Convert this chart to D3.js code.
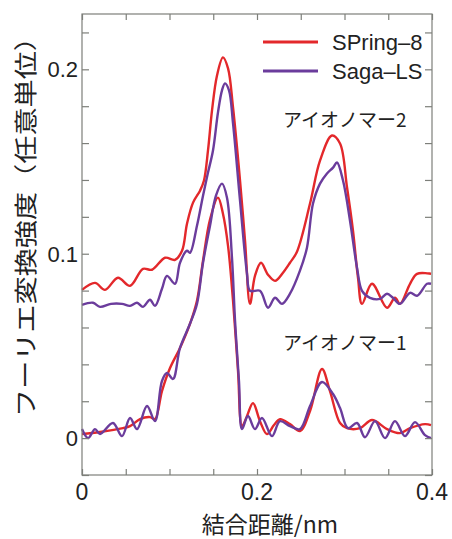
<!DOCTYPE html>
<html>
<head>
<meta charset="utf-8">
<script src="https://cdn.jsdelivr.net/npm/d3@7"></script>
<style>
  body { margin: 0; background: #fff; }
  text { font-family: "Liberation Sans", Arial, sans-serif; fill: #222; }
  .jp { font-family: "Noto Sans CJK JP", sans-serif; }
</style>
</head>
<body>
<script>
// values: [bond distance nm, FT intensity]
var spring8Ionomer2 = [[0,0.0804],[0.0149,0.0842],[0.0263,0.0804],[0.0411,0.087],[0.0549,0.0826],[0.0697,0.0918],[0.08,0.0913],[0.0949,0.0978],[0.1063,0.0967],[0.1143,0.1016],[0.12,0.1163],[0.1269,0.1277],[0.1349,0.1342],[0.1394,0.1397],[0.144,0.156],[0.1486,0.1777],[0.1543,0.1967],[0.1611,0.2065],[0.1669,0.2005],[0.1726,0.1793],[0.1806,0.1397],[0.1863,0.1071],[0.192,0.0728],[0.1977,0.088],[0.2046,0.0951],[0.2126,0.0886],[0.2206,0.0853],[0.2297,0.0897],[0.2377,0.0951],[0.2457,0.1011],[0.2606,0.1272],[0.272,0.1505],[0.2857,0.1641],[0.2949,0.1598],[0.3029,0.1359],[0.3097,0.1125],[0.3154,0.087],[0.32,0.0728],[0.3314,0.0837],[0.3486,0.0707],[0.3577,0.0761],[0.3634,0.0728],[0.3749,0.0837],[0.3829,0.0891],[0.3989,0.0891]]
var sagaIonomer2 = [[0,0.0723],[0.0126,0.0734],[0.0206,0.0712],[0.0331,0.0728],[0.0457,0.0728],[0.0549,0.0717],[0.0629,0.0734],[0.0697,0.0712],[0.0777,0.075],[0.0834,0.0717],[0.0914,0.081],[0.0971,0.088],[0.1063,0.0837],[0.112,0.0951],[0.12,0.1016],[0.1234,0.1005],[0.1314,0.1152],[0.1383,0.1315],[0.144,0.144],[0.1497,0.156],[0.1554,0.1766],[0.16,0.1886],[0.1634,0.1924],[0.168,0.1886],[0.1726,0.1707],[0.1806,0.1288],[0.1886,0.0891],[0.192,0.0799],[0.2034,0.0799],[0.2126,0.0707],[0.2206,0.0761],[0.2286,0.0728],[0.2377,0.0783],[0.2491,0.0908],[0.2571,0.1033],[0.264,0.1272],[0.272,0.138],[0.28,0.1435],[0.2869,0.1467],[0.2914,0.1495],[0.2983,0.1397],[0.3063,0.1179],[0.3143,0.0924],[0.32,0.0799],[0.3291,0.0761],[0.3406,0.0755],[0.3486,0.0783],[0.3554,0.0761],[0.3634,0.0728],[0.3749,0.0788],[0.3829,0.0772],[0.3943,0.0837],[0.3989,0.0837]]
var spring8Ionomer1 = [[0,0.0022],[0.0206,0.0033],[0.0469,0.0054],[0.0549,0.0065],[0.0663,0.0103],[0.0777,0.0114],[0.0834,0.0103],[0.0914,0.0255],[0.1006,0.038],[0.112,0.0489],[0.1234,0.062],[0.1314,0.0745],[0.1383,0.0962],[0.1463,0.1185],[0.1554,0.1304],[0.1611,0.1217],[0.1669,0.1043],[0.1726,0.0745],[0.1783,0.0364],[0.1829,0.0065],[0.1886,0.012],[0.1954,0.019],[0.2034,0.0092],[0.2114,0.0022],[0.2194,0.0071],[0.2263,0.0103],[0.2377,0.0076],[0.2491,0.0038],[0.2606,0.0147],[0.2743,0.0375],[0.2834,0.0255],[0.2949,0.0082],[0.3029,0.0054],[0.3177,0.0054],[0.3314,0.0098],[0.3486,0.0049],[0.3634,0.0027],[0.3749,0.0054],[0.392,0.0076],[0.3989,0.0071]]
var sagaIonomer1 = [[0,0.0049],[0.0069,0],[0.0149,0.0049],[0.0206,0.0022],[0.0354,0.0082],[0.0457,0.0011],[0.0549,0.0109],[0.0629,0.0049],[0.0743,0.0174],[0.0834,0.0092],[0.0914,0.031],[0.0971,0.0353],[0.104,0.0321],[0.112,0.0489],[0.1234,0.062],[0.1314,0.0728],[0.1383,0.0951],[0.1463,0.1152],[0.1531,0.1315],[0.16,0.138],[0.1657,0.1304],[0.1714,0.0978],[0.1749,0.0636],[0.1794,0.031],[0.1829,0.0049],[0.1897,0.012],[0.1977,0.0049],[0.2057,0.0109],[0.2171,0.0011],[0.2263,0.0092],[0.2377,0.0065],[0.2491,0.0049],[0.2606,0.0174],[0.2743,0.0304],[0.2869,0.0239],[0.2949,0.0163],[0.304,0.0054],[0.3143,0.0082],[0.3234,0.0005],[0.3349,0.0092],[0.3463,0],[0.3577,0.0092],[0.3691,0.0011],[0.3806,0.0087],[0.392,0.0016],[0.3989,0]]

var seriesNames = ['SPring\u20138', 'Saga\u2013LS']
var seriesColors = ['#e3282b', '#6b3c9c']
var curveLabels = ['アイオノマー2', 'アイオノマー1']
var xTickLabels = [0, 0.2, 0.4]
var yTickLabels = [0, 0.1, 0.2]

var w = 452, h = 539
var m = {top: 14, right: 20, bottom: 64, left: 82}
var iw = w - m.left - m.right
var ih = h - m.top - m.bottom

var svg = d3.select('body').append('svg')
  .attr('width', w)
  .attr('height', h)

var x = d3.scaleLinear().domain([0, 0.4]).range([0, iw])
var y = d3.scaleLinear().domain([-0.02, 0.23]).range([ih, 0])

var g = svg.append('g').attr('transform', 'translate(' + m.left + ',' + m.top + ')')

// curves
var line = d3.line()
  .x(function (d) { return x(d[0]) })
  .y(function (d) { return y(d[1]) })
  .curve(d3.curveCatmullRom.alpha(0.5))

var curves = [
  {data: spring8Ionomer2, c: 0},
  {data: spring8Ionomer1, c: 0},
  {data: sagaIonomer2, c: 1},
  {data: sagaIonomer1, c: 1}
]
curves.forEach(function (s) {
  g.append('path')
    .datum(s.data)
    .attr('d', line)
    .attr('fill', 'none')
    .attr('stroke', seriesColors[s.c])
    .attr('stroke-width', 2.4)
    .attr('stroke-linejoin', 'round')
})

// frame + ticks (inward, all four sides)
var frameColor = '#7d7f7a'
g.append('rect')
  .attr('width', iw).attr('height', ih)
  .attr('fill', 'none').attr('stroke', frameColor).attr('stroke-width', 1.2)

var yTicks = d3.range(-0.02, 0.2301, 0.02).map(function (v) { return +v.toFixed(2) })
var xTicks = d3.range(0, 0.4001, 0.05).map(function (v) { return +v.toFixed(2) })

function addAxis(axis, tx, ty) {
  var a = g.append('g').attr('transform', 'translate(' + tx + ',' + ty + ')').call(axis)
  a.select('.domain').remove()
  a.selectAll('line').attr('stroke', frameColor).attr('stroke-width', 1.2)
  a.selectAll('text').remove()
}
addAxis(d3.axisLeft(y).tickValues(yTicks).tickSize(-7), 0, 0)
addAxis(d3.axisRight(y).tickValues(yTicks).tickSize(-7), iw, 0)
addAxis(d3.axisBottom(x).tickValues(xTicks).tickSize(-6), 0, ih)
addAxis(d3.axisTop(x).tickValues(xTicks).tickSize(-6), 0, 0)

// tick labels
g.selectAll('.ylab').data(yTickLabels).enter().append('text')
  .attr('x', -4)
  .attr('y', function (d) { return y(d) })
  .attr('dy', '0.36em')
  .attr('text-anchor', 'end')
  .style('font-size', '22px')
  .text(function (d) { return d })

g.selectAll('.xlab').data(xTickLabels).enter().append('text')
  .attr('x', function (d) { return x(d) })
  .attr('y', ih + 25)
  .attr('text-anchor', 'middle')
  .style('font-size', '23px')
  .text(function (d) { return d })

// axis titles
svg.append('text')
  .attr('class', 'jp')
  .attr('x', 270).attr('y', 533)
  .attr('text-anchor', 'middle')
  .style('font-size', '23px')
  .text('結合距離/nm')

svg.append('text')
  .attr('class', 'jp')
  .attr('transform', 'translate(34,220) rotate(-90)')
  .attr('text-anchor', 'middle')
  .attr('textLength', 394)
  .attr('lengthAdjust', 'spacingAndGlyphs')
  .style('font-size', '23px')
  .text('フーリエ変換強度（任意単位）')

// legend
var legend = svg.append('g').attr('transform', 'translate(263,42)')
seriesNames.forEach(function (name, i) {
  legend.append('line')
    .attr('x1', 0).attr('x2', 55)
    .attr('y1', i * 29).attr('y2', i * 29)
    .attr('stroke', seriesColors[i]).attr('stroke-width', 3)
  legend.append('text')
    .attr('x', 69).attr('y', i * 29)
    .attr('dy', '0.36em')
    .style('font-size', '22px')
    .text(name)
})

// curve labels
svg.append('text').attr('class', 'jp')
  .attr('x', 283).attr('y', 127)
  .style('font-size', '19px')
  .text(curveLabels[0])
svg.append('text').attr('class', 'jp')
  .attr('x', 283).attr('y', 350)
  .style('font-size', '19px')
  .text(curveLabels[1])
</script>
</body>
</html>
